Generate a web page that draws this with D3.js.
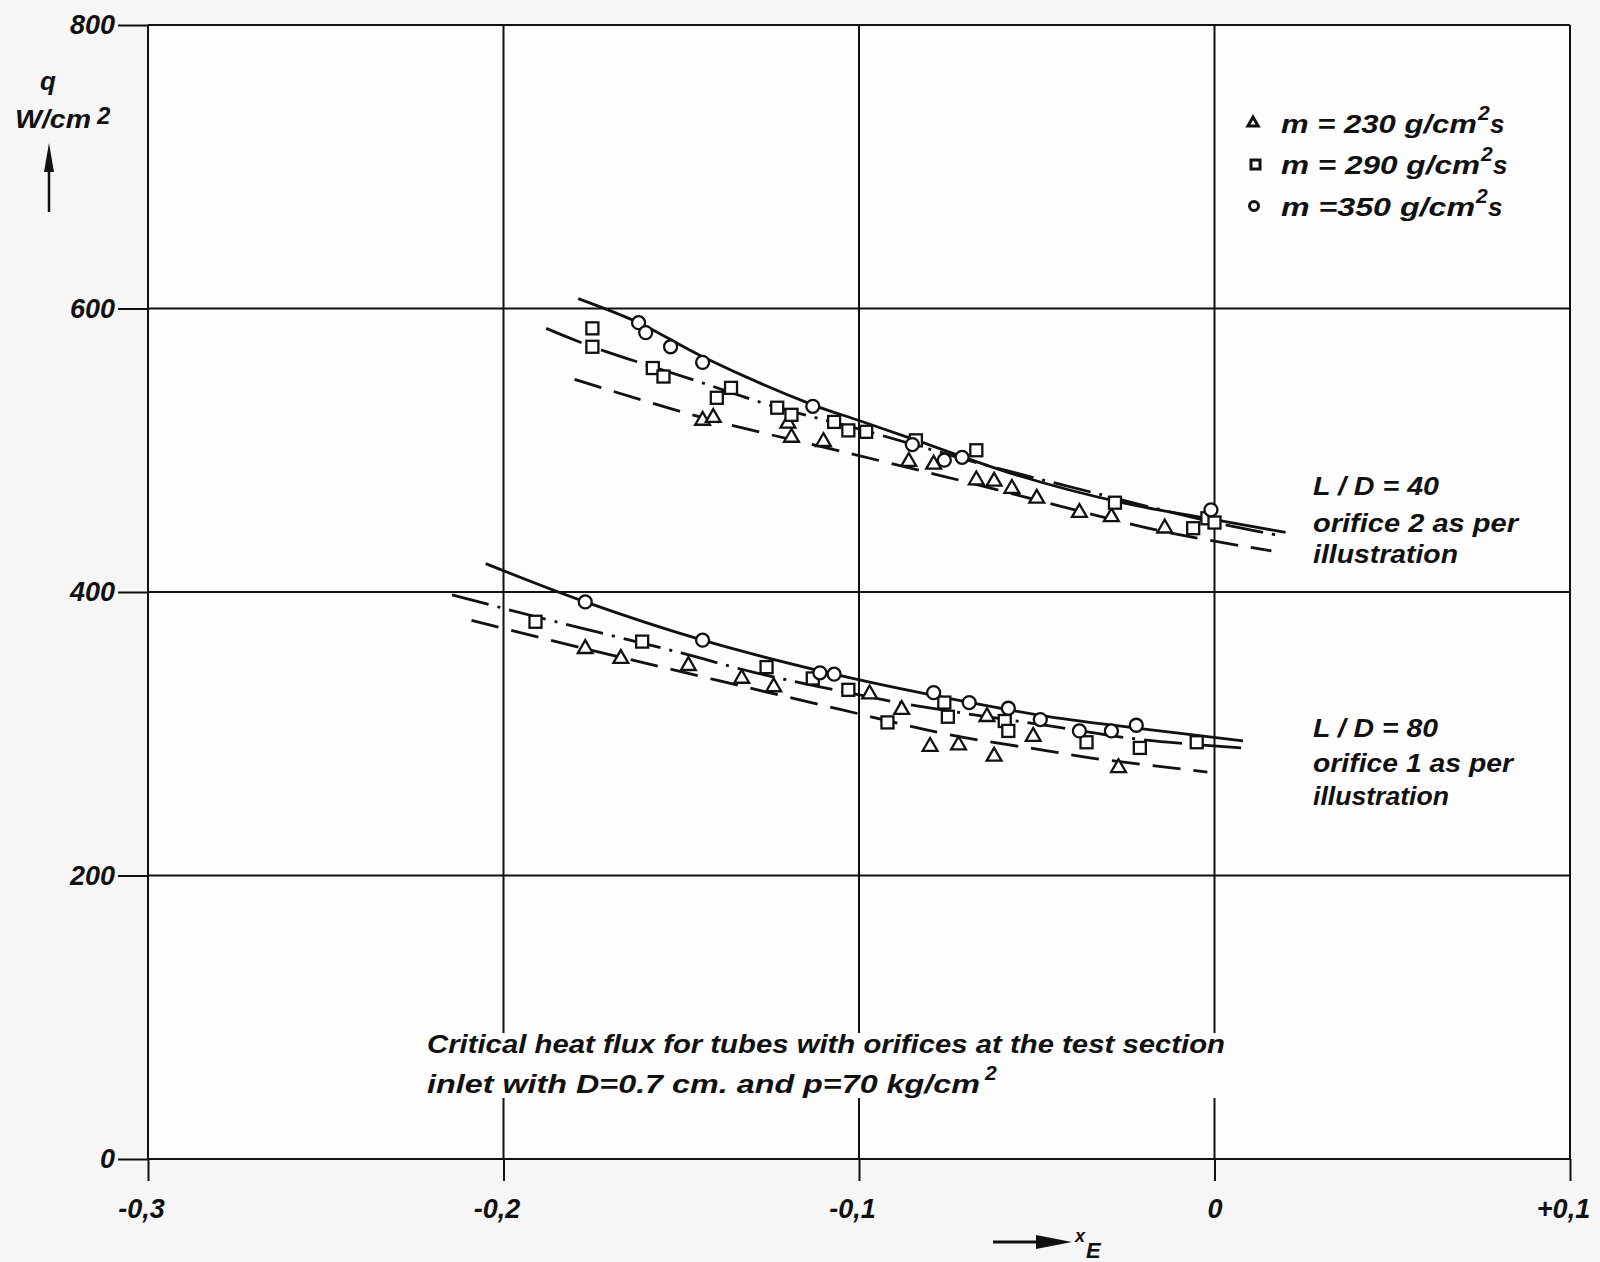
<!DOCTYPE html>
<html>
<head>
<meta charset="utf-8">
<script src="https://cdn.jsdelivr.net/npm/d3@7"></script>
<style>
  body { margin: 0; background: #f6f6f6; }
  svg text { font-family: 'Liberation Sans', Arial, sans-serif; font-style: italic; font-weight: bold; fill: #111; }
</style>
</head>
<body>
<svg width="1600" height="1262"></svg>
<script>
"use strict";

// x = steam quality x_E, y = critical heat flux q (W/cm2)
const xTicks = [-0.3, -0.2, -0.1, 0, 0.1];
const xTickLabels = ['-0,3', '-0,2', '-0,1', '0', '+0,1'];
const yTicks = [0, 200, 400, 600, 800];

// L/D = 40, orifice 2
const upperCircles = [[-0.162, 590], [-0.160, 583], [-0.153, 573], [-0.144, 562], [-0.113, 531],
  [-0.085, 504], [-0.076, 493], [-0.071, 495], [-0.001, 458]];
const upperSquares = [[-0.175, 586], [-0.175, 573], [-0.158, 558], [-0.155, 552], [-0.140, 537],
  [-0.136, 544], [-0.123, 530], [-0.119, 525], [-0.107, 520], [-0.103, 514], [-0.098, 513],
  [-0.084, 507], [-0.067, 500], [-0.028, 463], [-0.006, 445], [-0.002, 452], [0.000, 449]];
const upperTriangles = [[-0.144, 521], [-0.141, 523], [-0.120, 519], [-0.119, 509], [-0.110, 506],
  [-0.086, 492], [-0.079, 490], [-0.067, 479], [-0.062, 478], [-0.057, 473], [-0.050, 466],
  [-0.038, 456], [-0.029, 453], [-0.014, 445]];
const upperSolid = [[-0.179, 607], [-0.162, 590], [-0.144, 566], [-0.113, 532], [-0.100, 521],
  [-0.085, 508], [-0.055, 482], [-0.026, 463], [0.000, 451], [0.020, 442]];
const upperDashDot = [[-0.188, 586], [-0.175, 573], [-0.147, 550], [-0.124, 531], [-0.100, 515],
  [-0.065, 490], [-0.034, 470], [0.000, 449], [0.018, 440]];
const upperDashed = [[-0.180, 550], [-0.144, 523], [-0.103, 498], [-0.072, 479], [-0.044, 461],
  [-0.015, 443], [0.016, 429]];

// L/D = 80, orifice 1
const lowerCircles = [[-0.177, 393], [-0.144, 366], [-0.111, 343], [-0.107, 342], [-0.079, 329],
  [-0.069, 322], [-0.058, 318], [-0.049, 310], [-0.038, 302], [-0.029, 302], [-0.022, 306]];
const lowerSquares = [[-0.191, 379], [-0.161, 365], [-0.126, 347], [-0.113, 339], [-0.103, 331],
  [-0.092, 308], [-0.076, 322], [-0.075, 312], [-0.059, 309], [-0.058, 302], [-0.036, 294],
  [-0.021, 290], [-0.005, 294]];
const lowerTriangles = [[-0.177, 360], [-0.167, 353], [-0.148, 348], [-0.133, 339], [-0.124, 333],
  [-0.097, 328], [-0.088, 317], [-0.080, 291], [-0.072, 292], [-0.064, 312], [-0.062, 284],
  [-0.051, 298], [-0.027, 276]];
const lowerSolid = [[-0.205, 420], [-0.177, 393], [-0.144, 366], [-0.107, 342], [-0.079, 327],
  [-0.049, 313], [-0.022, 304], [0.008, 295]];
const lowerDashDot = [[-0.2145, 398], [-0.190, 382], [-0.150, 357], [-0.129, 343], [-0.091, 323],
  [-0.077, 317], [-0.045, 305], [-0.021, 296], [0.008, 290]];
const lowerDashed = [[-0.209, 380], [-0.177, 360], [-0.105, 317], [-0.074, 299], [-0.047, 288],
  [-0.035, 283], [-0.002, 273]];

const legendValues = ['m = 230 g/cm', 'm = 290 g/cm', 'm =350 g/cm'];

const svg = d3.select('svg');

const x = d3.scaleLinear().domain([-0.3, 0.1]).range([148, 1570]);
const y = d3.scaleLinear().domain([0, 800]).range([1159, 25]);

svg.append('rect')
    .attr('x', x(-0.3)).attr('y', y(800))
    .attr('width', x(0.1) - x(-0.3)).attr('height', y(0) - y(800))
    .attr('fill', '#fdfdfd');

// grid
const grid = svg.append('g').attr('stroke', '#111').attr('stroke-width', 2);
grid.selectAll('.v').data(xTicks).join('line')
    .attr('x1', d => x(d)).attr('x2', d => x(d))
    .attr('y1', y(800)).attr('y2', y(0));
grid.selectAll('.h').data(yTicks).join('line')
    .attr('x1', x(-0.3)).attr('x2', x(0.1))
    .attr('y1', d => y(d)).attr('y2', d => y(d));

const yAxis = svg.append('g')
    .attr('transform', `translate(${x(-0.3)},0)`)
    .call(d3.axisLeft(y).tickValues(yTicks).tickSize(30).tickPadding(3));
const xAxis = svg.append('g')
    .attr('transform', `translate(0,${y(0)})`)
    .call(d3.axisBottom(x).tickValues(xTicks).tickSize(22).tickPadding(18)
        .tickFormat((d, i) => xTickLabels[i]));
[yAxis, xAxis].forEach(a => {
  a.select('.domain').remove();
  a.selectAll('line').attr('stroke', '#111').attr('stroke-width', 2);
  a.selectAll('text').attr('font-size', 27).attr('font-family', null);
});
xAxis.selectAll('text').attr('dx', (d, i) => xTickLabels[i].length > 1 ? -7 : 0);

// caption box hides the grid
svg.append('rect')
    .attr('x', 420).attr('y', 1033).attr('width', 812).attr('height', 65)
    .attr('fill', '#fdfdfd');

// curves
const line = d3.line().x(d => x(d[0])).y(d => y(d[1])).curve(d3.curveCatmullRom.alpha(0.5));
const curves = [
  [upperSolid, null], [upperDashDot, '38,9,3,9'], [upperDashed, '28,13'],
  [lowerSolid, null], [lowerDashDot, '38,9,3,9'], [lowerDashed, '28,13']
];
svg.append('g').selectAll('path').data(curves).join('path')
    .attr('d', d => line(d[0]))
    .attr('fill', 'none')
    .attr('stroke', '#111')
    .attr('stroke-width', 2.8)
    .attr('stroke-dasharray', d => d[1]);

// markers
const marks = svg.append('g').attr('fill', '#fff').attr('stroke', '#111').attr('stroke-width', 2.3);
const tri = d3.symbol().type(d3.symbolTriangle).size(95);
marks.selectAll('.t').data(upperTriangles.concat(lowerTriangles)).join('path')
    .attr('d', tri)
    .attr('transform', d => `translate(${x(d[0])},${y(d[1])})`);
marks.selectAll('.s').data(upperSquares.concat(lowerSquares)).join('rect')
    .attr('x', d => x(d[0]) - 6).attr('y', d => y(d[1]) - 6)
    .attr('width', 12).attr('height', 12);
marks.selectAll('.c').data(upperCircles.concat(lowerCircles)).join('circle')
    .attr('cx', d => x(d[0])).attr('cy', d => y(d[1]))
    .attr('r', 6.5);

function label(px, py, str, size, len) {
  const t = svg.append('text')
      .attr('x', px).attr('y', py)
      .attr('font-size', size)
      .text(str);
  if (len) t.attr('textLength', len).attr('lengthAdjust', 'spacingAndGlyphs');
  return t;
}

// legend
const legendY = [133, 174, 216];
const legendEnd = [1477, 1480, 1475];
const legend = svg.append('g').attr('fill', 'none').attr('stroke', '#111').attr('stroke-width', 3);
legend.append('path')
    .attr('d', d3.symbol().type(d3.symbolTriangle).size(45))
    .attr('transform', `translate(1253,${legendY[0] - 10})`);
legend.append('rect')
    .attr('x', 1251).attr('y', legendY[1] - 14).attr('width', 9).attr('height', 9);
legend.append('circle')
    .attr('cx', 1254).attr('cy', legendY[2] - 10).attr('r', 4.5);
legendValues.forEach((v, i) => {
  label(1281, legendY[i], v, 26, legendEnd[i] - 1281);
  label(legendEnd[i] + 1, legendY[i] - 13, '2', 21);
  label(legendEnd[i] + 13, legendY[i], 's', 26);
});

// right-hand annotations
label(1313, 495, 'L / D = 40', 26, 126);
label(1313, 532, 'orifice 2 as per', 26, 205);
label(1313, 563, 'illustration', 26, 145);
label(1313, 737, 'L / D =  80', 26, 125);
label(1313, 772, 'orifice 1 as per', 26, 200);
label(1313, 805, 'illustration', 26, 136);

// caption
label(427, 1053, 'Critical  heat  flux  for  tubes  with  orifices  at  the  test  section', 25, 798);
label(427, 1093, 'inlet  with  D=0.7 cm.  and  p=70  kg/cm', 25, 553);
label(985, 1080, '2', 21);

// y title
label(48, 90, 'q', 26).attr('text-anchor', 'middle');
label(15, 128, 'W/cm', 26, 76);
label(97, 124, '2', 24);
svg.append('line')
    .attr('x1', 49).attr('x2', 49).attr('y1', 212).attr('y2', 165)
    .attr('stroke', '#111').attr('stroke-width', 2.5);
svg.append('path')
    .attr('d', 'M49,143 L44,172 L54,172 Z')
    .attr('fill', '#111');

// x title
svg.append('line')
    .attr('x1', 993).attr('x2', 1040).attr('y1', 1242).attr('y2', 1242)
    .attr('stroke', '#111').attr('stroke-width', 3);
svg.append('path')
    .attr('d', 'M1072,1242 L1036,1235 L1036,1249 Z')
    .attr('fill', '#111');
label(1075, 1242, 'x', 18);
label(1086, 1258, 'E', 22);
</script>
</body>
</html>
